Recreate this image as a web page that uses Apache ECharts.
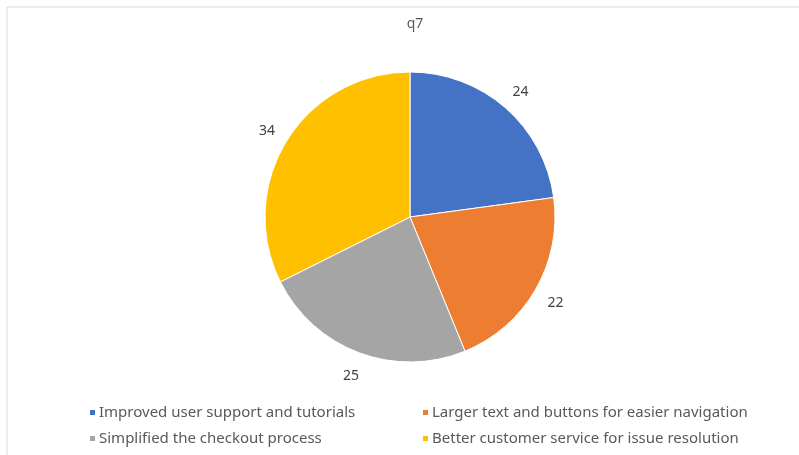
<!DOCTYPE html>
<html>
<head>
<meta charset="utf-8">
<script src="https://cdn.jsdelivr.net/npm/echarts@6/dist/echarts.min.js"></script>
<style>
  html, body { margin: 0; padding: 0; background: #fff; }
  #chart { width: 799px; height: 455px; }
</style>
</head>
<body>
<div id="chart"></div>
<script>
// 数据
const categories = [
  'Improved user support and tutorials',
  'Larger text and buttons for easier navigation',
  'Simplified the checkout process',
  'Better customer service for issue resolution'
]
const values = [24, 22, 25, 34]
const colors = ['#4472C4', '#ED7D31', '#A5A5A5', '#FFC000']

const chart = echarts.init(document.getElementById('chart'))
const font = "'Noto Sans', 'Liberation Sans', sans-serif"
const pieData = categories.map((name, i) => ({ name: name, value: values[i] }))

let legendBase = {
  orient: 'vertical',
  top: 400,
  itemWidth: 7,
  itemHeight: 7,
  itemGap: 11,
  icon: 'rect',
  textStyle: { color: '#595959', fontSize: 15, fontFamily: font, padding: [0, 0, 0, -2] }
}

let option = {
  color: colors,
  animation: false,
  title: {
    text: 'q7',
    left: 410,
    textAlign: 'center',
    top: 12,
    textStyle: { color: '#595959', fontSize: 14, fontWeight: 'normal', fontFamily: font }
  },
  graphic: [{
    type: 'rect',
    shape: { x: 7, y: 7, width: 820, height: 470 },
    style: { fill: 'none', stroke: '#d9d9d9', lineWidth: 1 },
    silent: true
  }],
  legend: [
    Object.assign({ left: 83, data: [categories[0], categories[2]] }, legendBase),
    Object.assign({ left: 416, data: [categories[1], categories[3]] }, legendBase)
  ],
  series: [{
    type: 'pie',
    center: [410, 217],
    radius: 145,
    startAngle: 90,
    clockwise: true,
    itemStyle: { borderColor: '#fff', borderWidth: 1 },
    label: { show: false },
    labelLine: { show: false },
    emphasis: { disabled: true },
    data: pieData
  }, {
    // 透明外环，只用来放数值标签
    type: 'pie',
    center: [410, 219],
    radius: [145, 185],
    startAngle: 90,
    clockwise: true,
    silent: true,
    itemStyle: { color: 'rgba(0,0,0,0)', borderWidth: 0 },
    label: {
      show: true,
      position: 'inside',
      formatter: '{c}',
      color: '#404040',
      fontSize: 14,
      fontFamily: font
    },
    labelLine: { show: false },
    emphasis: { disabled: true },
    data: pieData
  }]
}

chart.setOption(option)
</script>
</body>
</html>
